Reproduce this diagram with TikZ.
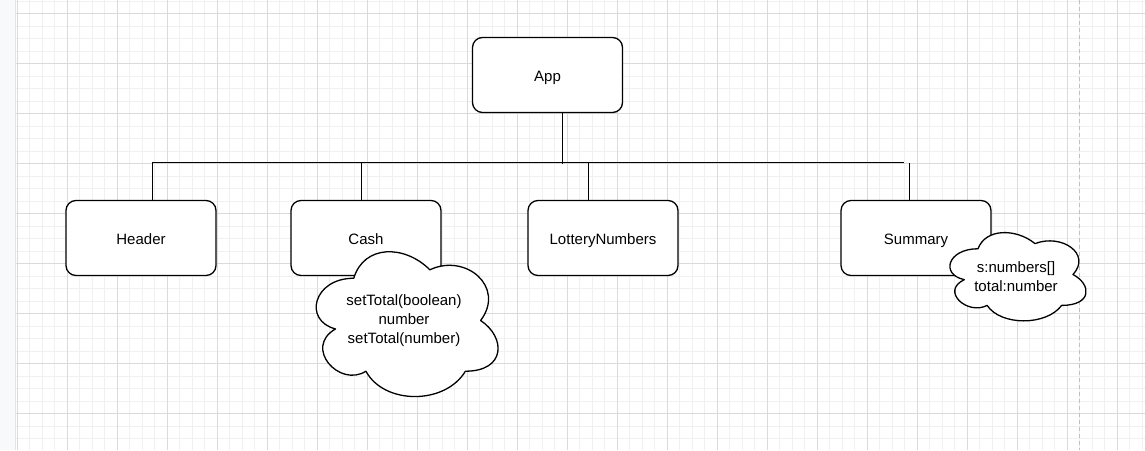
\documentclass[tikz,border=0pt]{standalone}
\usepackage{fontspec}
\setmainfont{Liberation Sans}
\definecolor{gridminor}{HTML}{F0F0F0}
\definecolor{gridmajor}{HTML}{DADADA}
\definecolor{margingrey}{HTML}{F8F9FA}
\definecolor{pagebreak}{HTML}{C0C0C0}
\tikzset{
  block/.style={draw, line width=1.3pt, rounded corners=10pt, fill=white, minimum width=150pt, minimum height=75pt, inner sep=0pt, outer sep=0pt, text height=12pt, text depth=0pt},
  wire/.style={line width=1.3pt},
  note/.style={align=center, inner sep=0pt, font=\fontsize{15}{19}\selectfont},
  puff/.style={draw, line width=1.3pt, fill=white}
}
\begin{document}
\begin{tikzpicture}[x=1pt, y=-1pt, font=\fontsize{15}{18}\selectfont, line join=round]
\useasboundingbox (0,0) rectangle (1145,450);

% canvas
\fill[white] (0,0) rectangle (1145,450);
\fill[margingrey] (0,0) rectangle (15,450);
\draw[gridmajor!70] (15.5,0) -- (15.5,450);
\foreach \k in {0,...,90} \draw[gridminor] (16.7+12.5*\k,0) -- (16.7+12.5*\k,450);
\foreach \k in {0,...,35} \draw[gridminor] (16,0.8+12.5*\k) -- (1145,0.8+12.5*\k);
\foreach \k in {0,...,22} \draw[gridmajor] (16.7+50*\k,0) -- (16.7+50*\k,450);
\foreach \k in {0,...,8} \draw[gridmajor] (16,13.3+50*\k) -- (1145,13.3+50*\k);
\draw[pagebreak, dash pattern=on 4pt off 3pt] (1078.7,0) -- (1078.7,450);

% components
\node[block] (app) at (547.5,75) {App};
\node[block] (header) at (141,238) {Header};
\node[block] (cash) at (366,238) {Cash};
\node[block] (lottery) at (603,238) {LotteryNumbers};
\node[block] (summary) at (916,238) {Summary};

% tree
\coordinate (busend) at (903.5,162.7);
\draw[wire] ([xshift=11.3pt]header.north) |- (busend);
\draw[wire] ([xshift=14.8pt]app.south) -- ([xshift=14.8pt,yshift=-1.3pt]app.south |- busend);
\draw[wire] ([xshift=-4.3pt]cash.north) -- ([xshift=-4.3pt]cash.north |- busend);
\draw[wire] ([xshift=-14.7pt]lottery.north) -- ([xshift=-14.7pt]lottery.north |- busend);
\draw[wire] ([xshift=-6.7pt]summary.north) -- ([xshift=-6.7pt]summary.north |- busend);

% clouds
\begin{scope}[shift={(303,236)}, xscale=203, yscale=169]
\draw[puff] (0.25,0.25) .. controls (0.05,0.25) and (0,0.5) .. (0.16,0.55)
  .. controls (0,0.66) and (0.18,0.9) .. (0.31,0.8)
  .. controls (0.4,1) and (0.7,1) .. (0.8,0.8)
  .. controls (1,0.8) and (1,0.6) .. (0.875,0.5)
  .. controls (1,0.3) and (0.8,0.1) .. (0.625,0.2)
  .. controls (0.5,0.05) and (0.3,0.05) .. (0.25,0.25) -- cycle;
\end{scope}
\begin{scope}[shift={(940,223)}, xscale=152, yscale=103]
\draw[puff] (0.25,0.25) .. controls (0.05,0.25) and (0,0.5) .. (0.16,0.55)
  .. controls (0,0.66) and (0.18,0.9) .. (0.31,0.8)
  .. controls (0.4,1) and (0.7,1) .. (0.8,0.8)
  .. controls (1,0.8) and (1,0.6) .. (0.875,0.5)
  .. controls (1,0.3) and (0.8,0.1) .. (0.625,0.2)
  .. controls (0.5,0.05) and (0.3,0.05) .. (0.25,0.25) -- cycle;
\end{scope}
\node[note] (cashnote) at (404,321) {setTotal(boolean)\\number\\setTotal(number)};
\node[note] (summarynote) at (1016,277) {s:numbers[]\\total:number};
\end{tikzpicture}
\end{document}
